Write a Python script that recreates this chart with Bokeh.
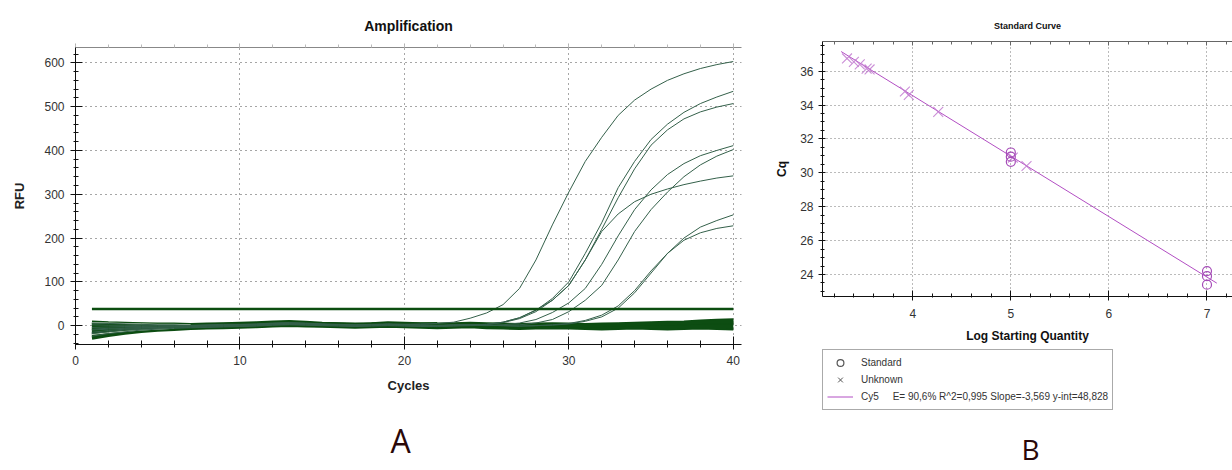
import numpy as np
from bokeh.plotting import figure
from bokeh.models import (SingleIntervalTicker, LinearAxis, Legend, LegendItem, Range1d, Label)
from bokeh.layouts import row, column
from bokeh.embed import file_html
from bokeh.resources import INLINE

# ---------------- Panel A data: amplification (RFU per cycle) ----------------
cycles = list(range(1, 41))
threshold_rfu = 38

amp_1 = [-15, -11, -8, -6, -4, -3, -2, -1, 0, 1, 2, 4, 5, 4, 3, 2, 1, 2, 3, 3, 4, 5,
         8, 17, 29, 48, 85, 150, 230, 305, 375, 430, 480, 515, 540, 560, 575, 587, 596, 603]
amp_2 = [-24, -18, -14, -10, -8, -6, -5, -4, -3, -2, -1, 1, 2, 1, 0, -1, -2, -1, 0, -1, -2, -1, 0, 1,
         3, 8, 18, 35, 62, 100, 165, 235, 315, 375, 425, 460, 487, 507, 522, 535]
amp_3 = [-8, -6, -5, -4, -3, -2, -1, 0, 1, 1, 2, 4, 5, 4, 3, 2, 1, 2, 3, 2, 1, 0, 1, 2,
         3, 7, 16, 32, 58, 92, 150, 220, 292, 358, 412, 447, 472, 488, 499, 507]
amp_4 = [-18, -14, -10, -8, -6, -5, -4, -3, -2, -1, 0, 2, 3, 2, 1, 0, -1, 0, 1, 0, -1, -2, -1, 0, 1,
         2, 6, 14, 30, 52, 85, 140, 205, 265, 310, 345, 370, 388, 400, 411]
amp_5 = [2, 1, 1, 0, 0, 0, 0, 1, 2, 2, 3, 5, 6, 5, 3, 2, 1, 2, 3, 2, 1, 0, 1, 1, 0, 1,
         2, 6, 14, 32, 58, 92, 150, 215, 265, 305, 340, 367, 387, 402]
amp_6 = [6, 5, 4, 3, 2, 2, 1, 2, 3, 3, 4, 6, 7, 6, 4, 3, 2, 3, 4, 3, 2, 1, 2, 2,
         3, 8, 18, 36, 58, 92, 150, 215, 255, 283, 300, 312, 322, 330, 337, 342]
amp_7 = [-10, -8, -6, -5, -4, -3, -2, -1, 0, 1, 2, 4, 5, 4, 3, 2, 1, 2, 3, 2, 1, 0, 1, 2, 1, 0, -1, 0,
         2, 5, 12, 24, 45, 80, 125, 165, 200, 225, 240, 253]
amp_8 = [-4, -3, -2, -2, -1, -1, 0, 0, 1, 2, 3, 5, 6, 5, 3, 2, 1, 2, 3, 2, 1, 0, 1, 2, 1, 0, -1, 0, 1,
         4, 10, 20, 40, 75, 120, 165, 195, 212, 222, 228]

flat_1 = [8, 6, 5, 4, 3, 3, 2, 3, 4, 5, 6, 8, 9, 7, 5, 4, 3, 4, 6, 5, 4, 3, 4, 5, 4, 3, 2, 3, 4, 3,
          2, 3, 4, 5, 6, 7, 8, 10, 12, 13]
flat_2 = [-28, -22, -17, -13, -10, -8, -6, -5, -4, -3, -2, 0, 1, 0, -1, -2, -3, -2, -1, -2, -3, -4,
          -3, -2, -4, -5, -6, -5, -4, -5, -6, -7, -6, -5, -6, -7, -6, -5, -6, -7]
flat_3 = [-20, -15, -11, -8, -6, -4, -3, -2, -1, 0, 1, 3, 4, 3, 2, 1, 0, 1, 2, 1, 0, -1, 0, 1, 0,
          -1, -2, -1, 0, -1, -2, -1, 0, 1, 2, 3, 4, 5, 6, 7]
flat_4 = [4, 3, 2, 2, 1, 1, 0, 1, 2, 3, 4, 6, 7, 5, 3, 2, 1, 2, 3, 2, 1, 0, 1, 2, 1, 0, -1, 0, 1,
          0, -1, 0, 1, 2, 3, 2, 3, 4, 5, 5]
flat_5 = [-12, -9, -7, -5, -4, -3, -2, -1, 0, 1, 2, 4, 5, 4, 3, 2, 1, 2, 3, 2, 1, 0, 1, 2, 1, -1,
          -3, -2, -1, -2, -3, -4, -3, -2, -3, -4, -3, -2, -1, -2]
flat_6 = [-6, -4, -3, -2, -1, 0, 1, 2, 2, 2, 3, 5, 6, 5, 4, 3, 2, 3, 4, 3, 2, 1, 2, 3, 2, 1, 0, 1,
          2, 1, 0, 1, 2, 3, 4, 5, 6, 8, 9, 10]

streak_a_cycles = [1, 2, 3, 4, 5, 6, 7]
streak_a = [7, 6, 5, 4, 3, 3, 2]
streak_b_cycles = [1, 2, 3, 4, 5, 6]
streak_b = [-20, -16, -13, -10, -8, -6]

amp_curves = [amp_1, amp_2, amp_3, amp_4, amp_5, amp_6, amp_7, amp_8]
amp_baseline_end = [22, 24, 24, 25, 26, 24, 28, 29]   # last baseline cycle of each curve
flat_curves = [flat_1, flat_2, flat_3, flat_4, flat_5, flat_6]

# ---------------- Panel B data: standard curve ----------------
std_logq = [5, 5, 5, 7, 7, 7]
std_cq = [31.2, 30.95, 30.65, 24.2, 23.9, 23.4]
unk_logq = [3.33, 3.40, 3.46, 3.53, 3.56, 3.92, 3.96, 4.26, 5.02, 5.16]
unk_cq = [36.75, 36.55, 36.4, 36.15, 36.1, 34.8, 34.6, 33.6, 30.9, 30.4]
fit_slope = -3.569
fit_intercept = 48.828
fit_logq = [3.27, 7.10]
fit_cq = [fit_slope * v + fit_intercept for v in fit_logq]
legend_fit_text = "Cy5\u00a0\u00a0\u00a0\u00a0\u00a0E= 90,6% R^2=0,995 Slope=-3,569 y-int=48,828"
NAN = float("nan")   # legend sample glyphs carry no data point

FONT = "Liberation Sans"

# ================= Panel A =================
pA = figure(width=770, height=400, output_backend="svg", toolbar_location=None,
            x_range=Range1d(0, 40.5), y_range=Range1d(-43, 635),
            min_border_left=75, min_border_right=29, min_border_top=47, min_border_bottom=56)
pA.outline_line_color = None

xt = SingleIntervalTicker(interval=10, num_minor_ticks=5)
yt = SingleIntervalTicker(interval=100, num_minor_ticks=5)
pA.xaxis.ticker = xt
pA.yaxis.ticker = yt
pA.xgrid.ticker = xt
pA.ygrid.ticker = yt
for g in (pA.xgrid, pA.ygrid):
    g.grid_line_color = "#222222"
    g.grid_line_dash = "1 4"
    g.grid_line_alpha = 0.8

for ax in (pA.xaxis, pA.yaxis):
    ax.axis_line_color = "#111111"
    ax.major_tick_line_color = "#111111"
    ax.minor_tick_line_color = "#111111"
    ax.major_label_text_font = FONT
    ax.major_label_text_font_size = "12px"
    ax.major_label_text_color = "#333333"
    ax.axis_label_text_font = FONT
    ax.axis_label_text_font_size = "13px"
    ax.axis_label_text_font_style = "bold"
    ax.axis_label_text_color = "#222222"

pA.xaxis.axis_label = "Cycles"
pA.xaxis.major_tick_in = 8
pA.xaxis.major_tick_out = 5
pA.xaxis.minor_tick_in = 4
pA.xaxis.minor_tick_out = 3
pA.xaxis.major_label_standoff = 6
pA.xaxis.axis_label_standoff = 10

pA.yaxis.axis_label = "RFU"
pA.yaxis.major_tick_in = 7
pA.yaxis.major_tick_out = 5
pA.yaxis.minor_tick_in = 3
pA.yaxis.minor_tick_out = 2
pA.yaxis.major_label_standoff = 6
pA.yaxis.axis_label_standoff = 14

top_ax = LinearAxis(ticker=xt)
top_ax.axis_line_color = "#888888"
top_ax.major_tick_line_color = "#aaaaaa"
top_ax.minor_tick_line_color = "#bbbbbb"
top_ax.major_tick_in = 0
top_ax.major_tick_out = 4
top_ax.minor_tick_in = 0
top_ax.minor_tick_out = 3
top_ax.major_label_text_font_size = "2px"
top_ax.major_label_text_color = None
top_ax.major_label_standoff = 0
pA.add_layout(top_ax, "above")

pA.title.text = "Amplification"
pA.title.text_font = FONT
pA.title.text_font_size = "14px"
pA.title.text_font_style = "bold"
pA.title.text_color = "#111111"
pA.title.align = "center"
pA.title.offset = -14
pA.title.standoff = 19

band_color = "#0d4d12"
for fc in flat_curves:
    pA.line(cycles, fc, line_color=band_color, line_width=3.5)
for ac, be in zip(amp_curves, amp_baseline_end):
    pA.line(cycles[:be], ac[:be], line_color=band_color, line_width=3)
pA.line(streak_a_cycles, streak_a, line_color="#d5e2d5", line_width=1)
pA.line(streak_b_cycles, streak_b, line_color="#d5e2d5", line_width=1)
for ac in amp_curves:
    pA.line(cycles, ac, line_color="#34604a", line_width=1)
pA.line([cycles[0], cycles[-1]], [threshold_rfu, threshold_rfu], line_color="#0c4d10", line_width=2.5)

# footer of panel A with the "A" letter (page-pixel coordinates)
fA = figure(width=770, height=70, output_backend="svg", toolbar_location=None,
            x_range=Range1d(75, 741), y_range=Range1d(0, 70),
            x_axis_location=None, y_axis_location=None, min_border=0)
fA.outline_line_color = None
fA.grid.visible = False
fA.add_layout(Label(x=400, y=30, text="A", text_align="center", text_baseline="middle",
                    text_font="Open Sans", text_font_size="32px", text_color="#2a0808"))

# ================= Panel B =================
purple = "#b24ec3"
pB = figure(width=462, height=345, output_backend="svg", toolbar_location=None,
            x_range=Range1d(3.08, 7.26), y_range=Range1d(22.7, 37.75),
            min_border_left=52, min_border_right=0, min_border_top=41, min_border_bottom=47)
pB.outline_line_color = None

bxt = SingleIntervalTicker(interval=1, num_minor_ticks=5)
byt = SingleIntervalTicker(interval=2, num_minor_ticks=4)
pB.xaxis.ticker = bxt
pB.yaxis.ticker = byt
pB.xgrid.ticker = bxt
pB.ygrid.ticker = byt
for g in (pB.xgrid, pB.ygrid):
    g.grid_line_color = "#777777"
    g.grid_line_dash = "1 3"

for ax in (pB.xaxis, pB.yaxis):
    ax.axis_line_color = "#111111"
    ax.major_tick_line_color = "#111111"
    ax.minor_tick_line_color = "#111111"
    ax.major_label_text_font = FONT
    ax.major_label_text_font_size = "12px"
    ax.major_label_text_color = "#333333"
    ax.axis_label_text_font = FONT
    ax.axis_label_text_font_size = "12px"
    ax.axis_label_text_font_style = "bold"
    ax.axis_label_text_color = "#111111"

pB.xaxis.axis_label = "Log Starting Quantity"
pB.xaxis.major_tick_in = 6
pB.xaxis.major_tick_out = 4
pB.xaxis.minor_tick_in = 3
pB.xaxis.minor_tick_out = 1
pB.xaxis.major_label_standoff = 8
pB.xaxis.axis_label_standoff = 8

pB.yaxis.axis_label = "Cq"
pB.yaxis.major_tick_in = 3
pB.yaxis.major_tick_out = 4
pB.yaxis.minor_tick_in = 2
pB.yaxis.minor_tick_out = 2
pB.yaxis.major_label_standoff = 5
pB.yaxis.axis_label_standoff = 8

btop = LinearAxis(ticker=bxt)
btop.axis_line_color = "#666666"
btop.major_tick_line_color = "#666666"
btop.minor_tick_line_color = "#666666"
btop.major_tick_in = 4
btop.major_tick_out = 0
btop.minor_tick_in = 3
btop.minor_tick_out = 0
btop.major_label_text_font_size = "2px"
btop.major_label_text_color = None
btop.major_label_standoff = 0
pB.add_layout(btop, "above")

pB.title.text = "Standard Curve"
pB.title.text_font = FONT
pB.title.text_font_size = "9px"
pB.title.text_font_style = "bold"
pB.title.text_color = "#111111"
pB.title.align = "center"
pB.title.offset = -17
pB.title.standoff = 22

pB.line(fit_logq, fit_cq, line_color=purple, line_width=1)
pB.scatter(unk_logq, unk_cq, marker="x", size=14, line_color="#c27ad0", line_width=1.1, alpha=0.85)
pB.scatter(std_logq, std_cq, marker="circle", size=9, fill_color=None, line_color="#a64cb8", line_width=1.2)

# footer of panel B: legend + "B" letter (page-pixel coordinates)
fB = figure(width=462, height=125, output_backend="svg", toolbar_location=None,
            x_range=Range1d(822, 1232), y_range=Range1d(0, 125),
            x_axis_location=None, y_axis_location=None, min_border=0)
fB.outline_line_color = None
fB.grid.visible = False
r_std_leg = fB.scatter(x=[NAN], y=[NAN], marker="circle", size=11, fill_color=None,
                       line_color="#555555", line_width=1.2)
r_unk_leg = fB.scatter(x=[NAN], y=[NAN], marker="x", size=14, line_color="#555555", line_width=1)
r_fit_leg = fB.line(x=[NAN, NAN], y=[NAN, NAN], line_color=purple, line_width=1)
legend = Legend(items=[LegendItem(label="Standard", renderers=[r_std_leg]),
                       LegendItem(label="Unknown", renderers=[r_unk_leg]),
                       LegendItem(label=legend_fit_text, renderers=[r_fit_leg])],
                location=(0, 60), orientation="vertical")
legend.label_text_font = FONT
legend.label_text_font_size = "10px"
legend.label_text_color = "#333333"
legend.label_height = 17
legend.glyph_height = 17
legend.glyph_width = 26
legend.spacing = 0
legend.padding = 4
legend.margin = 0
legend.border_line_color = "#555555"
legend.border_line_width = 1
legend.label_standoff = 8
fB.add_layout(legend, "center")
fB.add_layout(Label(x=1030, y=22, text="B", text_align="center", text_baseline="middle",
                    text_font="Open Sans", text_font_size="28px", text_color="#2a0808"))

layout = row(column(pA, fA), column(pB, fB))
open("out.html", "w").write(file_html(layout, INLINE))
